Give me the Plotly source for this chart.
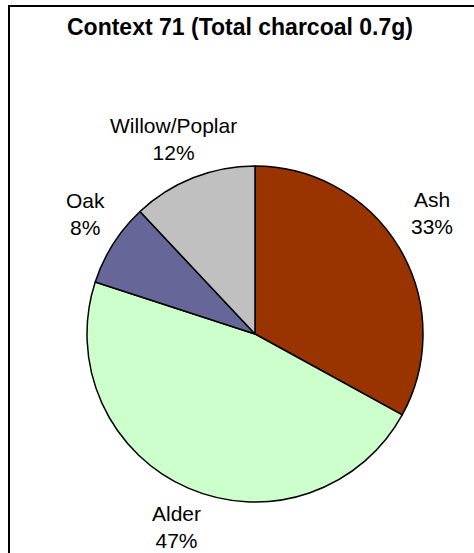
import math
import plotly.graph_objects as go

categories = ["Ash", "Alder", "Oak", "Willow/Poplar"]
values = [33, 47, 8, 12]
colors = ["#993300", "#CCFFCC", "#666699", "#C0C0C0"]
title_text = "Context 71 (Total charcoal 0.7g)"

W, H = 474, 553
cx, cy, r = 255, 334, 168  # pie centre / radius in px
label_k = 1.25
# small per-label pixel nudges (style only)
label_nudge = [(-4, -14), (5, 0), (8, -7), (-4, 0)]
font_family = "Liberation Sans, Arial, sans-serif"

fig = go.Figure(go.Pie(
    labels=categories, values=values, sort=False, direction="clockwise", rotation=0,
    marker=dict(colors=colors, line=dict(color="black", width=1.5)),
    textinfo="none", hoverinfo="skip", showlegend=False,
    domain=dict(x=[(cx - r) / W, (cx + r) / W], y=[1 - (cy + r) / H, 1 - (cy - r) / H]),
))

total = sum(values)
cum = 0
annotations = []
for (lab, v), (ndx, ndy) in zip(zip(categories, values), label_nudge):
    mid = (cum + v / 2) / total * 2 * math.pi
    cum += v
    px = cx + label_k * r * math.sin(mid) + ndx
    py = cy - label_k * r * math.cos(mid) + ndy
    pct = round(v / total * 100)
    annotations.append(dict(
        x=px / W, y=1 - py / H, xref="paper", yref="paper",
        text=f"{lab}<br>{pct}%", showarrow=False, align="center",
        xanchor="center", yanchor="middle",
        font=dict(family=font_family, size=21, color="black"),
    ))

annotations.append(dict(
    x=240 / W, y=1 - 27 / H, xref="paper", yref="paper", text=f"<b>{title_text}</b>",
    showarrow=False, xanchor="center", yanchor="middle",
    font=dict(family=font_family, size=23, color="black"),
))

fig.update_layout(
    width=W, height=H, margin=dict(l=0, r=0, t=0, b=0),
    paper_bgcolor="white", plot_bgcolor="white",
    annotations=annotations,
    shapes=[dict(type="rect", xref="paper", yref="paper",
                 x0=9 / W, y0=1 - 6 / H, x1=1.2, y1=-0.2,
                 line=dict(color="black", width=2), fillcolor="rgba(0,0,0,0)")],
)

fig.write_html("out.html")
